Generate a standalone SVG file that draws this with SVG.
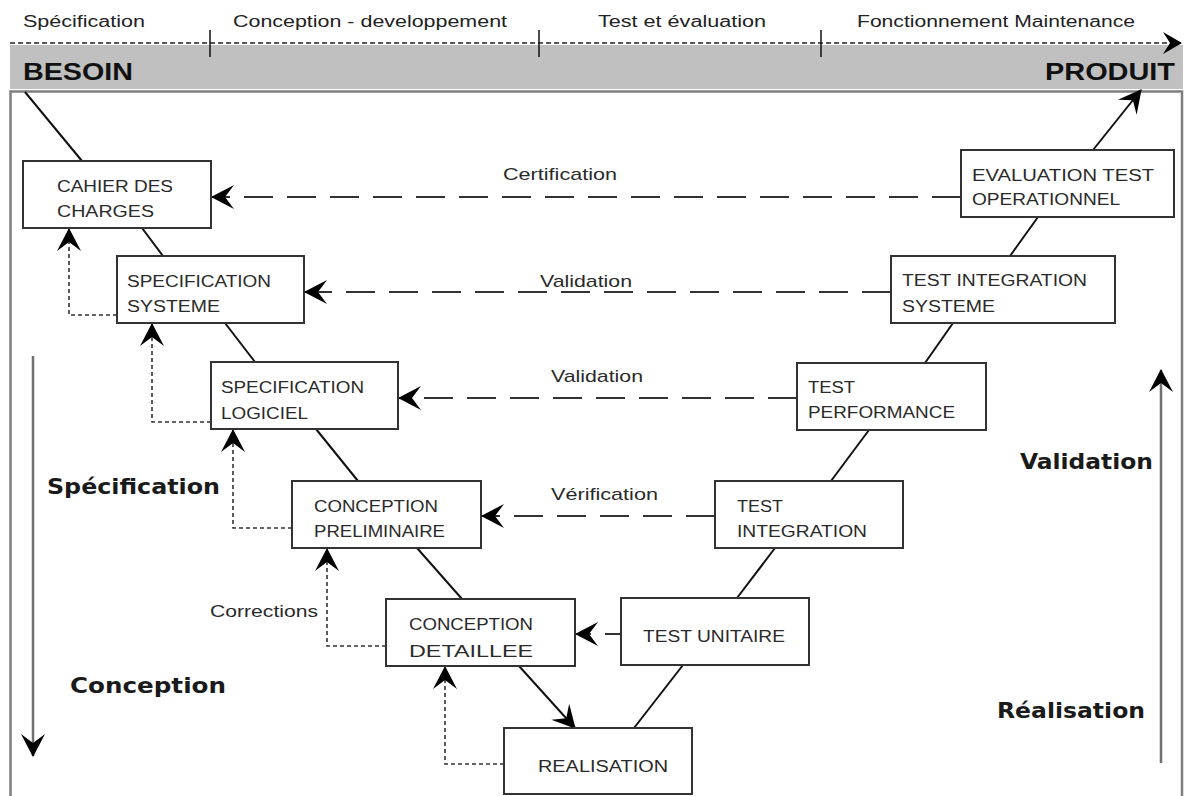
<svg xmlns="http://www.w3.org/2000/svg" width="1185" height="796" viewBox="0 0 1185 796">
<style>
.bg{fill:#ffffff}
.box{fill:#ffffff;stroke:#333333;stroke-width:2}
.bt{font-family:"Liberation Sans",Arial,sans-serif;font-size:16px;fill:#2a2a2a}
.hd{font-family:"Liberation Sans",Arial,sans-serif;font-size:16px;fill:#222222}
.lb{font-family:"Liberation Sans",Arial,sans-serif;font-size:17px;fill:#2a2a2a}
.big{font-family:"Liberation Sans",Arial,sans-serif;font-size:24px;font-weight:bold;fill:#111111}
.side{font-family:"DejaVu Sans",Verdana,sans-serif;font-size:21px;font-weight:bold;fill:#1a1a1a}
.v{stroke:#111111;stroke-width:2;fill:none}
.dash{stroke:#333333;stroke-width:2;fill:none;stroke-dasharray:29 14}
.dot{stroke:#333333;stroke-width:1.6;fill:none;stroke-dasharray:4 3}
.axis{stroke:#707070;stroke-width:2.5;fill:none}
</style>
<defs>
<marker id="ah" viewBox="-24 -14 26 28" refX="0" refY="0" markerWidth="26" markerHeight="28" markerUnits="userSpaceOnUse" orient="auto">
<path d="M1,0 L-22,-12 L-13,0 L-22,12 Z" fill="#000000"/>
</marker>
<marker id="ahs" viewBox="-20 -12 22 24" refX="0" refY="0" markerWidth="22" markerHeight="24" markerUnits="userSpaceOnUse" orient="auto">
<path d="M1,0 L-18,-11 L-11,0 L-18,11 Z" fill="#000000"/>
</marker>
</defs>
<rect class="bg" x="0" y="0" width="1185" height="796"/>

<g id="header">
<rect x="10" y="45" width="1173" height="44" fill="#c0c0c0"/>
<rect x="10.5" y="91.5" width="1171.5" height="720" fill="none" stroke="#7f7f7f" stroke-width="2.5"/>
<line x1="10" y1="43" x2="1181" y2="43" stroke="#222222" stroke-width="1.6" stroke-dasharray="5 3" marker-end="url(#ahs)"/>
<line x1="210" y1="30" x2="210" y2="57" stroke="#111" stroke-width="1.5"/>
<line x1="539" y1="30" x2="539" y2="57" stroke="#111" stroke-width="1.5"/>
<line x1="821" y1="30" x2="821" y2="57" stroke="#111" stroke-width="1.5"/>
<text class="hd" x="23" y="27" textLength="122" lengthAdjust="spacingAndGlyphs">Spécification</text>
<text class="hd" x="233" y="27" textLength="274" lengthAdjust="spacingAndGlyphs">Conception - developpement</text>
<text class="hd" x="598" y="27" textLength="168" lengthAdjust="spacingAndGlyphs">Test et évaluation</text>
<text class="hd" x="857" y="27" textLength="278" lengthAdjust="spacingAndGlyphs">Fonctionnement Maintenance</text>
<text class="big" x="23" y="80" textLength="110" lengthAdjust="spacingAndGlyphs">BESOIN</text>
<text class="big" x="1045" y="80" textLength="130" lengthAdjust="spacingAndGlyphs">PRODUIT</text>
</g>

<g id="connectors">
<line class="v" x1="25" y1="92" x2="82" y2="161"/>
<line class="v" x1="142" y1="228" x2="163" y2="256"/>
<line class="v" x1="225" y1="323" x2="255" y2="362"/>
<line class="v" x1="316" y1="429" x2="358" y2="481"/>
<line class="v" x1="417" y1="548" x2="462" y2="599"/>
<line class="v" x1="519" y1="666" x2="575" y2="728" marker-end="url(#ah)"/>
<line class="v" x1="634" y1="728" x2="683" y2="665"/>
<line class="v" x1="737" y1="598" x2="775" y2="548"/>
<line class="v" x1="831" y1="481" x2="869" y2="430"/>
<line class="v" x1="925" y1="363" x2="953" y2="323"/>
<line class="v" x1="1010" y1="256" x2="1038" y2="217"/>
<line class="v" x1="1093" y1="150" x2="1141" y2="90" marker-end="url(#ah)"/>

<line class="dash" x1="961" y1="197" x2="212" y2="197" marker-end="url(#ah)"/>
<line class="dash" x1="891" y1="292" x2="305" y2="292" marker-end="url(#ah)"/>
<line class="dash" x1="797" y1="398" x2="399" y2="398" marker-end="url(#ah)"/>
<line class="dash" x1="715" y1="516" x2="482" y2="516" marker-end="url(#ah)"/>
<line class="dash" x1="621" y1="634" x2="576" y2="634" style="stroke-dasharray:16 14" marker-end="url(#ah)"/>

<path class="dot" d="M117,315 H69 V229" marker-end="url(#ah)"/>
<path class="dot" d="M211,422 H152 V324" marker-end="url(#ah)"/>
<path class="dot" d="M292,528 H233 V430" marker-end="url(#ah)"/>
<path class="dot" d="M386,646 H327 V549" marker-end="url(#ah)"/>
<path class="dot" d="M504,764 H445 V667" marker-end="url(#ah)"/>

<line class="axis" x1="33" y1="356" x2="33" y2="756" marker-end="url(#ah)"/>
<line class="axis" x1="1161" y1="763" x2="1161" y2="370" marker-end="url(#ah)"/>

<text class="lb" x="503" y="180" textLength="114" lengthAdjust="spacingAndGlyphs">Certification</text>
<text class="lb" x="540" y="287" textLength="92" lengthAdjust="spacingAndGlyphs">Validation</text>
<text class="lb" x="551" y="382" textLength="92" lengthAdjust="spacingAndGlyphs">Validation</text>
<text class="lb" x="551" y="500" textLength="107" lengthAdjust="spacingAndGlyphs">Vérification</text>
<text class="lb" x="210" y="617" textLength="108" lengthAdjust="spacingAndGlyphs">Corrections</text>
</g>

<g id="axis-labels">
<text class="side" x="47" y="494" textLength="173" lengthAdjust="spacingAndGlyphs">Spécification</text>
<text class="side" x="70" y="693" textLength="156" lengthAdjust="spacingAndGlyphs">Conception</text>
<text class="side" x="1020" y="469" textLength="133" lengthAdjust="spacingAndGlyphs">Validation</text>
<text class="side" x="997" y="718" textLength="148" lengthAdjust="spacingAndGlyphs">Réalisation</text>
</g>

<g id="cahier">
<rect class="box" x="23" y="161" width="188" height="67"/>
<text class="bt" x="57" y="192" textLength="116" lengthAdjust="spacingAndGlyphs">CAHIER DES</text>
<text class="bt" x="57" y="217" textLength="97" lengthAdjust="spacingAndGlyphs">CHARGES</text>
</g>
<g id="spec-systeme">
<rect class="box" x="117" y="256" width="187" height="67"/>
<text class="bt" x="127" y="287" textLength="144" lengthAdjust="spacingAndGlyphs">SPECIFICATION</text>
<text class="bt" x="127" y="312" textLength="93" lengthAdjust="spacingAndGlyphs">SYSTEME</text>
</g>
<g id="spec-logiciel">
<rect class="box" x="211" y="362" width="187" height="67"/>
<text class="bt" x="221" y="393" textLength="143" lengthAdjust="spacingAndGlyphs">SPECIFICATION</text>
<text class="bt" x="221" y="419" textLength="87" lengthAdjust="spacingAndGlyphs">LOGICIEL</text>
</g>
<g id="conception-preliminaire">
<rect class="box" x="292" y="481" width="189" height="67"/>
<text class="bt" x="314" y="512" textLength="124" lengthAdjust="spacingAndGlyphs">CONCEPTION</text>
<text class="bt" x="314" y="537" textLength="131" lengthAdjust="spacingAndGlyphs">PRELIMINAIRE</text>
</g>
<g id="conception-detaillee">
<rect class="box" x="386" y="599" width="189" height="67"/>
<text class="bt" x="409" y="630" textLength="124" lengthAdjust="spacingAndGlyphs">CONCEPTION</text>
<text class="bt" x="409" y="657" textLength="124" lengthAdjust="spacingAndGlyphs">DETAILLEE</text>
</g>
<g id="realisation">
<rect class="box" x="504" y="728" width="188" height="66"/>
<text class="bt" x="538" y="772" textLength="130" lengthAdjust="spacingAndGlyphs">REALISATION</text>
</g>
<g id="test-unitaire">
<rect class="box" x="621" y="598" width="188" height="67"/>
<text class="bt" x="643" y="642" textLength="142" lengthAdjust="spacingAndGlyphs">TEST UNITAIRE</text>
</g>
<g id="test-integration">
<rect class="box" x="715" y="481" width="188" height="67"/>
<text class="bt" x="737" y="512" textLength="46" lengthAdjust="spacingAndGlyphs">TEST</text>
<text class="bt" x="737" y="537" textLength="130" lengthAdjust="spacingAndGlyphs">INTEGRATION</text>
</g>
<g id="test-performance">
<rect class="box" x="797" y="363" width="189" height="67"/>
<text class="bt" x="808" y="393" textLength="47" lengthAdjust="spacingAndGlyphs">TEST</text>
<text class="bt" x="808" y="418" textLength="147" lengthAdjust="spacingAndGlyphs">PERFORMANCE</text>
</g>
<g id="test-integration-systeme">
<rect class="box" x="891" y="256" width="224" height="67"/>
<text class="bt" x="902" y="286" textLength="185" lengthAdjust="spacingAndGlyphs">TEST INTEGRATION</text>
<text class="bt" x="902" y="312" textLength="93" lengthAdjust="spacingAndGlyphs">SYSTEME</text>
</g>
<g id="evaluation-test-operationnel">
<rect class="box" x="961" y="150" width="213" height="67"/>
<text class="bt" x="972" y="181" textLength="182" lengthAdjust="spacingAndGlyphs">EVALUATION TEST</text>
<text class="bt" x="972" y="205" textLength="148" lengthAdjust="spacingAndGlyphs">OPERATIONNEL</text>
</g>
</svg>
